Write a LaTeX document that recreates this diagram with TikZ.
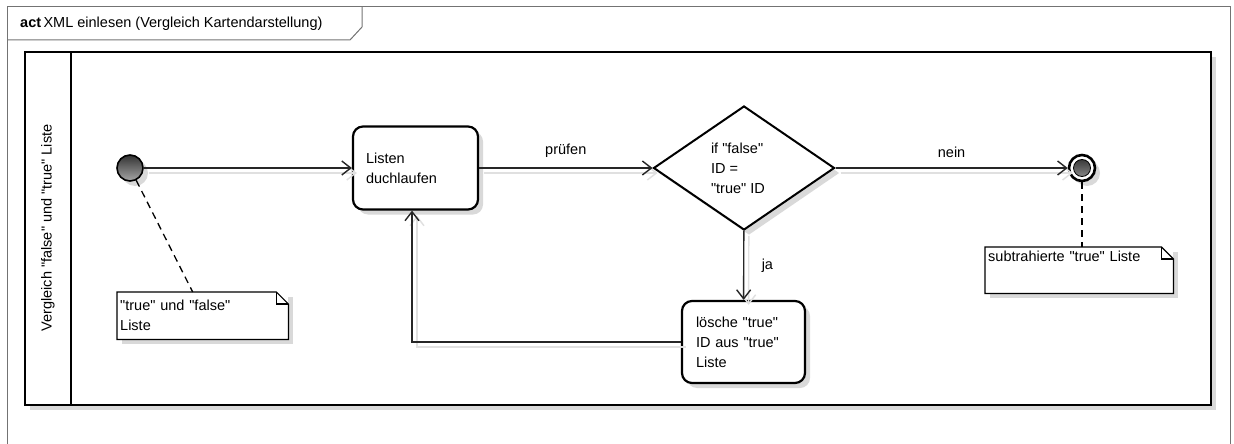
\documentclass[tikz,border=0pt]{standalone}
\usepackage{fontspec}
\setmainfont{Liberation Sans}[Ligatures=TeXOff]
\usetikzlibrary{arrows.meta,shadows,shapes.geometric}

\tikzset{
  nodeshadow/.style={drop shadow={shadow xshift=5pt, shadow yshift=-5pt, fill=black!15, opacity=1}},
  action/.style={draw, line width=2.2pt, rounded corners=10pt, fill=white, nodeshadow,
                 align=left, inner sep=0pt},
  decision/.style={draw, diamond, line width=2pt, fill=white, nodeshadow, align=left,
                   inner sep=0pt, aspect=1.46, minimum width=181pt, minimum height=124pt},
  initnode/.style={circle, draw, line width=1.6pt, minimum size=26pt, inner sep=0pt,
                   top color=black!80, bottom color=black!35, nodeshadow},
  finalnode/.style={circle, draw, line width=2.6pt, minimum size=26pt, inner sep=0pt,
                    fill=white, nodeshadow,
                    path picture={\shade[top color=black!85, bottom color=black!40]
                      (path picture bounding box.center) circle (8.5pt);
                      \draw[line width=0.8pt] (path picture bounding box.center) circle (8.5pt);}},
  notebox/.style={fill=white, nodeshadow, anchor=north west, align=left, inner sep=3pt},
  noteline/.style={line width=1.2pt},
  flow/.style={line width=1.4pt, draw=black!85, -{Straight Barb[length=9pt,width=14pt,line width=1.4pt]},
               preaction={draw=black!12, line width=1.4pt, transform canvas={shift={(5pt,-5pt)}}}},
  anchorline/.style={line width=1.3pt, dash pattern=on 7pt off 5pt},
  lbl/.style={font=\fontsize{14.5}{18}\selectfont}
}

\begin{document}
\begin{tikzpicture}[x=1pt, y=-1pt, font=\fontsize{14.5}{20}\selectfont]
  \useasboundingbox (0,0) rectangle (1234,444);

  % diagram frame and name tab
  \draw[black!55, line width=1pt] (7,7) rectangle (1230,450);
  \draw[black!55, line width=1pt] (7,40) -- (350,40) -- (362,27) -- (362,7);
  \node[anchor=west, inner sep=0pt] (title) at (20,24)
    {\textbf{act}\,XML einlesen (Vergleich Kartendarstellung)};

  % partition (swimlane)
  \draw[line width=2.2pt, fill=white, nodeshadow] (25,52) rectangle (1211,405);
  \draw[line width=2.2pt] (71,52) -- (71,405);
  \node[rotate=90] (lane) at (48,228) {Vergleich "false" und "true" Liste};

  % activity nodes
  \node[initnode] (start) at (130,168) {};
  \node[action, minimum width=125pt, minimum height=83pt, text width=99pt]
    (loop) at (415.5,168) {Listen\\duchlaufen};
  \node[decision] (dec) at (744,168) {\parbox{66pt}{if "false"\\ID =\\"true" ID}};
  \node[finalnode] (end) at (1082,168) {};
  \node[action, minimum width=123pt, minimum height=82pt, text width=95pt]
    (del) at (743.5,342) {lösche "true"\\ID aus "true"\\Liste};

  % comment notes
  \node[notebox, text width=165pt, minimum height=47pt] (note1) at (117,292)
    {"true" und "false"\\Liste};
  \draw[noteline] (note1.north west) -- ([xshift=-12pt]note1.north east)
    -- ([yshift=-12pt]note1.north east) -- (note1.south east) -- (note1.south west) -- cycle;
  \draw[noteline] ([xshift=-12pt]note1.north east) |- ([yshift=-12pt]note1.north east);

  \node[notebox, text width=182pt, text height=11pt, text depth=29pt] (note2) at (985,247)
    {subtrahierte "true" Liste};
  \draw[noteline] (note2.north west) -- ([xshift=-12pt]note2.north east)
    -- ([yshift=-12pt]note2.north east) -- (note2.south east) -- (note2.south west) -- cycle;
  \draw[noteline] ([xshift=-12pt]note2.north east) |- ([yshift=-12pt]note2.north east);

  % control flows
  \draw[flow] (start) -- (loop);
  \draw[flow] (loop) -- node[lbl, above=6pt] {prüfen} (dec);
  \draw[flow] (dec) -- node[lbl, above=6pt] {nein} (end);
  \draw[flow] (dec) -- node[lbl, right=14pt] {ja} (del);
  \draw[flow] (del.west) -| ([xshift=-3.5pt]loop.south);

  % note attachments
  \draw[anchorline] (start) -- ([xshift=-10pt]note1.north);
  \draw[anchorline] (end.south) -- (end.south |- note2.north);
\end{tikzpicture}
\end{document}
